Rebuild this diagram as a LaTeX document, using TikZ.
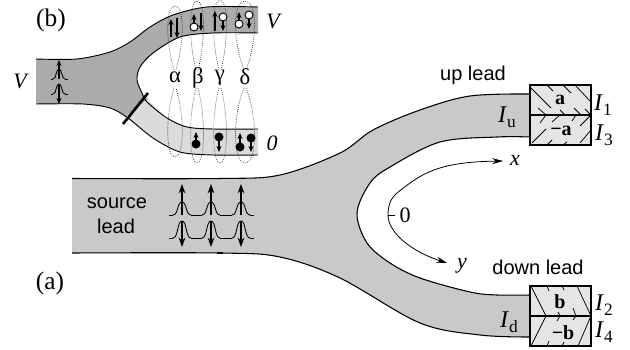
\documentclass[tikz,border=0pt]{standalone}
\usepackage{fontspec}
\setmainfont{Liberation Serif}
\setsansfont{Liberation Sans}
\usetikzlibrary{arrows.meta}
\tikzset{
 edge/.style={black,line width=0.8pt},
 spin/.style={-{Stealth[length=7pt,width=5pt]},line width=0.9pt},
 spinb/.style={-{Stealth[length=4.5pt,width=3.8pt]},line width=0.8pt},
 loopd/.style={densely dotted,line width=0.5pt,black!90},
 lab/.style={inner sep=0pt,font=\sffamily\fontsize{15}{17}\selectfont},
 ser/.style={inner sep=0pt,font=\fontsize{17}{19}\selectfont},
 big/.style={inner sep=0pt,font=\fontsize{19}{21}\selectfont},
 ital/.style={inner sep=0pt,font=\itshape\fontsize{16.5}{18}\selectfont},
 cur/.style={inner sep=0pt,font=\fontsize{18}{20}\selectfont},
 bld/.style={inner sep=0pt,font=\bfseries\fontsize{15}{17}\selectfont},
 hatch/.style={line width=0.55pt},
 pulse/.style={line width=0.65pt},
 boxb/.style={draw=black,line width=0.8pt,fill=black!10},
}
\newcommand{\tear}[4]{% cx, hw, top, bot
 \draw[loopd] (#1-1,70) .. controls (#1-#2-1,38) and (#1-#2,#3) .. (#1,#3) .. controls (#1+#2,#3) and (#1+#2+1,38) .. (#1+1,70);
 \draw[loopd] (#1-1,88) .. controls (#1-#2-1,118) and (#1-#2,#4) .. (#1,#4) .. controls (#1+#2,#4) and (#1+#2+1,118) .. (#1+1,88);
}
\newcommand{\pulseup}[4]{% cx, base, peak, halfwidth
 \draw[pulse] (#1-#4,#2) .. controls (#1-#4*0.4,#2) and (#1-#4*0.55,#3) .. (#1,#3) .. controls (#1+#4*0.55,#3) and (#1+#4*0.4,#2) .. (#1+#4,#2);
}
\newcommand{\lowsub}[1]{\textit{I}\raisebox{-3.5pt}{\fontsize{13}{13}\selectfont #1}}
\begin{document}
\begin{tikzpicture}[x=0.75pt,y=-0.75pt]
\useasboundingbox (0,0) rectangle (630,349);
% main Y
\fill[black!21] plot[smooth,tension=0.55] coordinates {(72,178.5) (220,178.5) (280,175) (340,153) (373,130) (420,110) (470,96) (530,94)}
 -- plot[smooth,tension=0.55] coordinates {(530,137) (497,137) (440,142) (390,167) (370,183) (357,213) (367,243) (390,263) (420,278) (470,292) (497,295) (530,295)}
 -- plot[smooth,tension=0.55] coordinates {(530,337) (480,335) (420,323) (340,278) (280,257) (220,253) (72,253)} -- cycle;
\draw[edge] plot[smooth,tension=0.55] coordinates {(72,178.5) (220,178.5) (280,175) (340,153) (373,130) (420,110) (470,96) (530,94)};
\draw[edge] plot[smooth,tension=0.55] coordinates {(530,137) (497,137) (440,142) (390,167) (370,183) (357,213) (367,243) (390,263) (420,278) (470,292) (497,295) (530,295)};
\draw[edge] plot[smooth,tension=0.55] coordinates {(530,337) (480,335) (420,323) (340,278) (280,257) (220,253) (72,253)};
\draw[line width=1.4pt] (217,178.5) -- (223,178.5);
\draw[line width=1.4pt] (217,253) -- (223,253);
% source pulses
\foreach \c in {182,211,241}{
 \draw[spin] (\c,215) -- (\c,184);
 \draw[spin] (\c,221) -- (\c,247);
 \pulseup{\c}{215}{202}{9}
 \pulseup{\c}{238}{221}{9}
}
\draw[pulse] (169,215) -- (173,215) (191,215) -- (202,215) (220,215) -- (232,215) (250,215) -- (254,215);
\draw[pulse] (169,238) -- (173,238) (191,238) -- (202,238) (220,238) -- (232,238) (250,238) -- (254,238);
\node[lab,align=center] (src) at (117,203) {source};
\node[lab,align=center] (srcb) at (116,226) {lead};
\node[lab] (up) at (473,75) {up lead};
\node[lab] (down) at (538,267) {down lead};
\node[big] (a) at (50,283) {(a)};
\node[big] (b) at (51,20) {(b)};
% boxes
\draw[boxb] (530,85) rectangle (591,145);
\draw[boxb] (530,286) rectangle (591,346);
\draw[line width=0.8pt] (530,115) -- (591,115);
\draw[line width=0.8pt] (530,316) -- (591,316);
\draw[hatch] (530,87) -- (551,108) (547,85) -- (553,91) (563,85) -- (571,93) (575,85) -- (591,102)
 (538,108) -- (546,115) (560,110) -- (565,115) (574,108) -- (581,115) (585,109) -- (591,115)
 (532,143) -- (546,129) (540,123) -- (546,115) (552,122) -- (560,115) (572,121) -- (576,115)
 (580,143) -- (591,130) (591,115) -- (580,126) (547,145) -- (552,140) (563,145) -- (567,142);
\draw[hatch] (531,286) -- (546,316) -- (531,346) (577,286) -- (591,316) -- (578,346)
 (547,286) -- (549,291) (562,286) -- (564,290) (558,312) -- (560,316) -- (557,321)
 (573,308) -- (576,316) -- (573,320) (547,346) -- (549,341) (562,346) -- (564,342);
\node[bld] (ba) at (560,100) {a};
\node[bld] (bma) at (561,131) {−a};
\node[bld] (bb) at (560,302) {b};
\node[bld] (bmb) at (563,333) {−b};
\node[cur] (i1) at (603,105) {\lowsub{1}};
\node[cur] (i3) at (604,135) {\lowsub{3}};
\node[cur] (i2) at (604,305) {\lowsub{2}};
\node[cur] (i4) at (604,332) {\lowsub{4}};
\node[cur] (iu) at (507,117) {\lowsub{u}};
\node[cur] (id) at (509,322) {\lowsub{d}};
% coordinate axes
\coordinate (ox) at (503,161);
\coordinate (oy) at (447,263);
\coordinate (oo) at (388,215);
\draw[-{Stealth[length=8pt,width=4.5pt]},line width=0.6pt] (oo) .. controls (388,205) and (391,198) .. (397,193) .. controls (420,175) and (435,162) .. (ox);
\draw[-{Stealth[length=8pt,width=4.5pt]},line width=0.6pt] (oo) .. controls (388,232) and (410,251) .. (oy);
\draw[line width=0.6pt] (oo) -- (395,215);
\node[ser,font=\fontsize{16.5}{18}\selectfont] (zero) at (405,215) {0};
\node[ital] (xl) at (515,160) {x};
\node[ital] (yl) at (462,266) {y};
% panel b
\fill[black!33] plot[smooth,tension=0.5] coordinates {(36,59) (77,59) (110,52) (130,42) (150,27) (173,15) (207,7) (258,7)}
 -- plot[smooth,tension=0.5] coordinates {(258,33) (213,33) (180,37) (153,53) (140,67) (137,80) (142,93) (148,99)}
 -- plot[smooth,tension=0.5] coordinates {(126,116) (110,108) (83,104) (36,104)} -- cycle;
\fill[black!14] plot[smooth,tension=0.5] coordinates {(148,100) (167,118) (187,127) (213,129) (258,129)} -- plot[smooth,tension=0.5] coordinates {(258,155) (213,155) (180,152) (153,138) (126,116)} -- cycle;
\draw[line width=0.7pt] plot[smooth,tension=0.5] coordinates {(36,59) (77,59) (110,52) (130,42) (150,27) (173,15) (207,7) (258,7)};
\draw[line width=0.7pt] plot[smooth,tension=0.5] coordinates {(258,33) (213,33) (180,37) (153,53) (140,67) (137,80) (142,93) (147,102) (167,118) (187,127) (213,129) (258,129)};
\draw[line width=0.7pt] plot[smooth,tension=0.5] coordinates {(258,155) (213,155) (180,152) (153,138) (128,118) (110,108) (83,104) (36,104)};
\draw[line width=2pt] (148,93) -- (123,124);
\tear{175}{9}{6}{157}
\tear{197}{8}{1}{163}
\tear{220}{8}{0}{163}
\tear{245}{12}{1}{163}
% spins
\draw[spinb] (171,37) -- (171,19);
\draw[spinb] (177,18) -- (177,38);
\draw[spinb] (194,27) -- (194,14);
\draw[fill=white,line width=0.7pt] (194,27) circle (4);
\draw[spinb] (201,13) -- (201,31);
\draw[spinb] (215,31) -- (215,11);
\draw[spinb] (223,17) -- (223,31);
\draw[fill=white,line width=0.7pt] (223,17) circle (4);
\draw[spinb] (239,24) -- (239,12);
\draw[fill=white,line width=0.7pt] (239,24) circle (4);
\draw[spinb] (249,15) -- (249,29);
\draw[fill=white,line width=0.7pt] (249,15) circle (4);
\draw[spinb] (196,144) -- (196,132);
\fill (196,144) circle (4.5);
\draw[spinb] (219,137) -- (219,152);
\fill (219,137) circle (4.5);
\draw[spinb] (240,147) -- (240,133);
\fill (240,147) circle (4.5);
\draw[spinb] (251,138) -- (251,152);
\fill (251,138) circle (4.5);
% b pulses
\draw[spinb] (59,79) -- (59,60);
\draw[spinb] (59,85) -- (59,104);
\pulseup{59}{79}{69}{6}
\pulseup{59}{94}{84}{6}
\draw[pulse] (51,79) -- (53,79) (65,79) -- (68,79) (51,94) -- (53,94) (65,94) -- (68,94);
\node[ser] (al) at (175,77) {α};
\node[ser] (be) at (198,78) {β};
\node[ser] (ga) at (220,78) {γ};
\node[ser] (de) at (245,77) {δ};
\node[ital] (v1) at (20,81) {V};
\node[ital] (v2) at (273,21) {V};
\node[ital] (o) at (272,143) {0};
\end{tikzpicture}
\end{document}
